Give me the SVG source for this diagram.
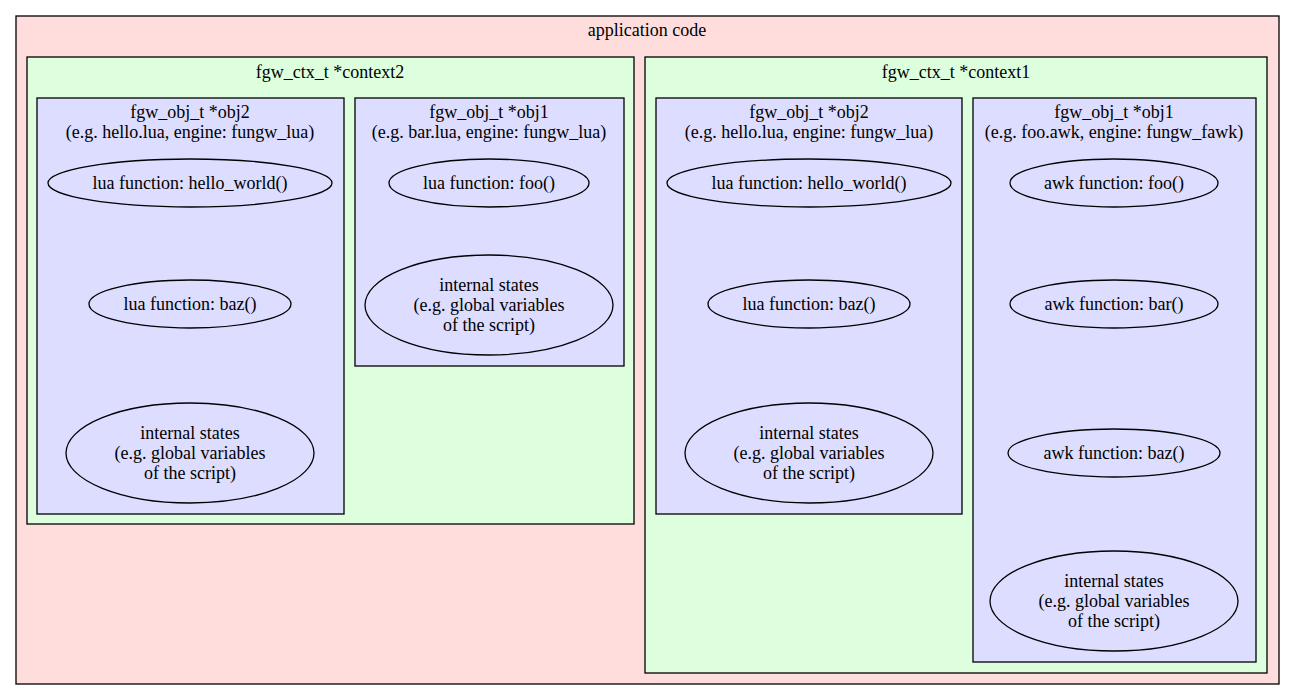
<svg xmlns="http://www.w3.org/2000/svg" width="1295" height="700" viewBox="0 0 1295 700">
<style>
text{font-family:"Liberation Serif","Times New Roman",serif;font-size:18px;fill:#000;text-anchor:middle}
.app{fill:#ffdddd;stroke:#000;stroke-width:1.3}
.ctx{fill:#ddffdd;stroke:#000;stroke-width:1.3}
.obj{fill:#ddddff;stroke:#000;stroke-width:1.3}
ellipse{fill:none;stroke:#000;stroke-width:1.3}
</style>
<rect width="1295" height="700" fill="#fff"/>
<g id="app">
<rect class="app" x="16" y="16" width="1263" height="668"/>
<text x="647" y="36">application code</text>
</g>
<g id="context2">
<rect class="ctx" x="27" y="57" width="607" height="467"/>
<text x="330" y="78">fgw_ctx_t *context2</text>
</g>
<g id="c2_obj2">
<rect class="obj" x="37" y="98" width="307" height="416"/>
<text x="190" y="118">fgw_obj_t *obj2</text>
<text x="190" y="138">(e.g. hello.lua, engine: fungw_lua)</text>
</g>
<g id="c2_obj2_hello"><ellipse cx="190" cy="183" rx="142" ry="24"/><text x="190" y="189">lua function: hello_world()</text></g>
<g id="c2_obj2_baz"><ellipse cx="190" cy="304" rx="101" ry="24"/><text x="190" y="310">lua function: baz()</text></g>
<g id="c2_obj2_state"><ellipse cx="190" cy="453" rx="124" ry="50"/><text x="190" y="439">internal states</text><text x="190" y="459">(e.g. global variables</text><text x="190" y="479">of the script)</text></g>
<g id="c2_obj1">
<rect class="obj" x="355" y="98" width="269" height="268"/>
<text x="489" y="118">fgw_obj_t *obj1</text>
<text x="489" y="138">(e.g. bar.lua, engine: fungw_lua)</text>
</g>
<g id="c2_obj1_foo"><ellipse cx="489" cy="183" rx="100" ry="24"/><text x="489" y="189">lua function: foo()</text></g>
<g id="c2_obj1_state"><ellipse cx="489" cy="305" rx="124" ry="50"/><text x="489" y="291">internal states</text><text x="489" y="311">(e.g. global variables</text><text x="489" y="331">of the script)</text></g>
<g id="context1">
<rect class="ctx" x="645" y="57" width="622" height="616"/>
<text x="956" y="78">fgw_ctx_t *context1</text>
</g>
<g id="c1_obj2">
<rect class="obj" x="656" y="98" width="306" height="416"/>
<text x="809" y="118">fgw_obj_t *obj2</text>
<text x="809" y="138">(e.g. hello.lua, engine: fungw_lua)</text>
</g>
<g id="c1_obj2_hello"><ellipse cx="809" cy="183" rx="142" ry="24"/><text x="809" y="189">lua function: hello_world()</text></g>
<g id="c1_obj2_baz"><ellipse cx="809" cy="304" rx="101" ry="24"/><text x="809" y="310">lua function: baz()</text></g>
<g id="c1_obj2_state"><ellipse cx="809" cy="453" rx="124" ry="50"/><text x="809" y="439">internal states</text><text x="809" y="459">(e.g. global variables</text><text x="809" y="479">of the script)</text></g>
<g id="c1_obj1">
<rect class="obj" x="973" y="98" width="283" height="564"/>
<text x="1114" y="118">fgw_obj_t *obj1</text>
<text x="1114" y="138">(e.g. foo.awk, engine: fungw_fawk)</text>
</g>
<g id="c1_obj1_foo"><ellipse cx="1114" cy="183" rx="104" ry="24"/><text x="1114" y="189">awk function: foo()</text></g>
<g id="c1_obj1_bar"><ellipse cx="1114" cy="304" rx="104" ry="24"/><text x="1114" y="310">awk function: bar()</text></g>
<g id="c1_obj1_baz"><ellipse cx="1114" cy="453" rx="106" ry="24"/><text x="1114" y="459">awk function: baz()</text></g>
<g id="c1_obj1_state"><ellipse cx="1114" cy="601" rx="124" ry="50"/><text x="1114" y="587">internal states</text><text x="1114" y="607">(e.g. global variables</text><text x="1114" y="627">of the script)</text></g>
<g id="connectors"></g>
</svg>
